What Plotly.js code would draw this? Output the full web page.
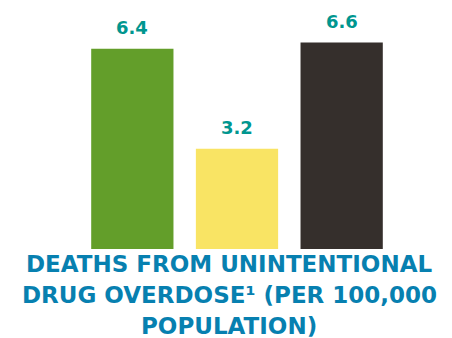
<!DOCTYPE html>
<html>
<head>
<meta charset="utf-8">
<script src="https://cdn.plot.ly/plotly-3.0.1.min.js"></script>
<style>html,body{margin:0;padding:0;background:#fff;}#chart{width:452px;height:338px;}</style>
</head>
<body>
<div id="chart"></div>
<script>
const categories = ["A", "B", "C"];
const values = [6.4, 3.2, 6.6];
const valueLabels = ["6.4", "3.2", "6.6"];
const barColors = ["#639e2a", "#f9e464", "#352f2c"];
const titleLines = ["DEATHS FROM UNINTENTIONAL", "DRUG OVERDOSE\u00B9 (PER 100,000", "POPULATION)"];

const trace = {
  type: "bar",
  x: categories,
  y: values,
  marker: {color: barColors, line: {width: 0}},
  hoverinfo: "none"
};

const annotations = categories.map((c, i) => ({
  x: c, y: values[i], xref: "x", yref: "y",
  text: valueLabels[i], showarrow: false,
  yanchor: "middle", yshift: 21,
  font: {family: "'DejaVu Sans', sans-serif", size: 18, color: "#00968f", weight: "bold"}
}));

const titleFont = {family: "'DejaVu Sans', sans-serif", size: 23, color: "#0780b0", weight: "bold"};
const titleY = [264, 295, 326];
titleLines.forEach((t, i) => {
  annotations.push({
    xref: "paper", yref: "paper", x: 0.476, y: 0,
    yshift: -(titleY[i] - 249), yanchor: "middle",
    text: t, showarrow: false, font: titleFont
  });
});

const layout = {
  width: 452, height: 338,
  margin: {l: 80, r: 58, t: 20, b: 89},
  paper_bgcolor: "#ffffff", plot_bgcolor: "#ffffff",
  bargap: 0.214,
  showlegend: false,
  xaxis: {showticklabels: false, showgrid: false, zeroline: false, showline: false, ticks: ""},
  yaxis: {range: [0, 7.316], showticklabels: false, showgrid: false, zeroline: false, showline: false, ticks: ""},
  annotations: annotations
};

Plotly.newPlot("chart", [trace], layout, {displayModeBar: false, staticPlot: true});
</script>
</body>
</html>
